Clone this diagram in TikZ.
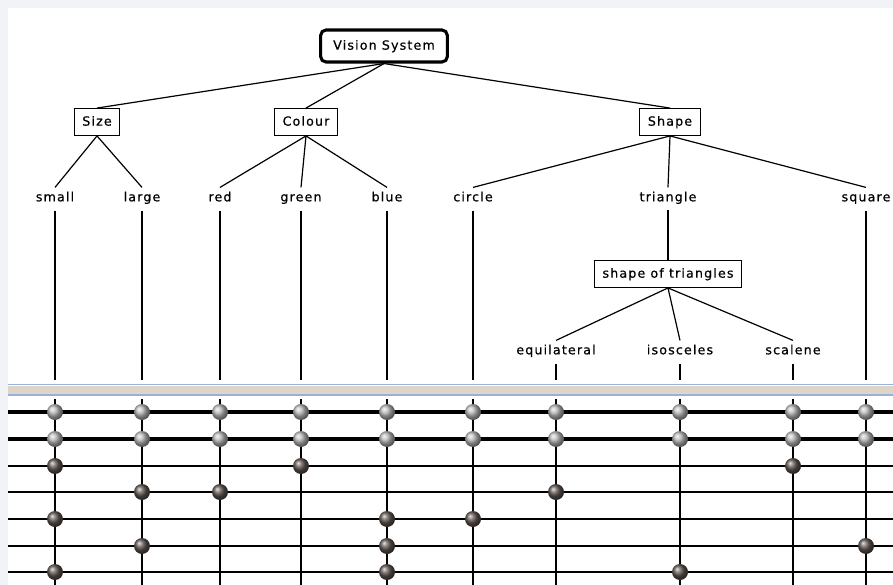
\documentclass[tikz,border=0pt]{standalone}
\usepackage{fontspec}
\setmainfont{DejaVu Sans}[LetterSpace=9, FakeBold=0.5]
\usetikzlibrary{calc}

\definecolor{stripgray}{RGB}{242,243,246}
\definecolor{sepblue}{RGB}{150,178,214}
\definecolor{sepband}{RGB}{222,212,200}
\definecolor{beadset}{RGB}{95,85,80}

\tikzset{
  catbox/.style={draw, line width=0.9pt, fill=white, minimum height=20pt, inner xsep=6pt,
    text height=7pt, text depth=1.5pt, font=\fontsize{9.5}{11}\selectfont},
  rootbox/.style={catbox, line width=2.3pt, rounded corners=4pt, minimum height=24pt, minimum width=95pt},
  leaf/.style={inner sep=1pt, text height=7pt, text depth=2pt, font=\fontsize{9.5}{11}\selectfont},
  wire/.style={line width=0.9pt},
  rail/.style={line width=0.9pt},
  railbold/.style={line width=2.8pt},
  bead/.style={circle, inner sep=0pt, minimum size=12pt, shading=ball, ball color=gray!55},
  setbead/.style={bead, ball color=beadset}
}

\begin{document}
\begin{tikzpicture}[x=0.75pt, y=-0.75pt]
	\useasboundingbox (0,0) rectangle (893,585);
	\fill[stripgray] (0,0) rectangle (893,8);
	\fill[stripgray] (0,8) rectangle (8,585);

	% tree
	\node[rootbox] (vs) at (384,46) {Vision System};
	\node[catbox] (size) at (97,122) {Size};
	\node[catbox] (colour) at (306,122) {Colour};
	\node[catbox] (shape) at (670,122) {Shape};
	\node[catbox] (tri) at (668,274) {shape of triangles};

	\node[leaf] (small) at (55,198) {small};
	\node[leaf] (large) at (142,198) {large};
	\node[leaf] (red) at (220,198) {red};
	\node[leaf] (green) at (301,198) {green};
	\node[leaf] (blue) at (387,198) {blue};
	\node[leaf] (circle) at (473,198) {circle};
	\node[leaf] (triangle) at (668,198) {triangle};
	\node[leaf] (square) at (866,198) {square};
	\node[leaf] (equi) at (556,351) {equilateral};
	\node[leaf] (isos) at (680,351) {isosceles};
	\node[leaf] (scal) at (793,351) {scalene};

	\draw[wire] (vs.south) -- (size.north);
	\draw[wire] (vs.south) -- (colour.north);
	\draw[wire] (vs.south) -- (shape.north);
	\draw[wire] (size.south) -- ($(small.north)+(0,-3)$);
	\draw[wire] (size.south) -- ($(large.north)+(0,-3)$);
	\draw[wire] (colour.south) -- ($(red.north)+(0,-3)$);
	\draw[wire] (colour.south) -- ($(green.north)+(0,-3)$);
	\draw[wire] (colour.south) -- ($(blue.north)+(0,-3)$);
	\draw[wire] (shape.south) -- ($(circle.north)+(0,-3)$);
	\draw[wire] (shape.south) -- ($(triangle.north)+(0,-3)$);
	\draw[wire] (shape.south) -- ($(square.north)+(0,-3)$);
	\draw[wire] ($(triangle.south)+(0,4)$) -- (tri.north);
	\draw[wire] (tri.south) -- ($(equi.north)+(0,-3)$);
	\draw[wire] (tri.south) -- ($(isos.north)+(0,-3)$);
	\draw[wire] (tri.south) -- ($(scal.north)+(0,-3)$);

	% separator
	\fill[sepband] (8,386) rectangle (893,394);
	\draw[sepblue, line width=0.9pt] (8,384.5) -- (893,384.5);
	\draw[sepblue, line width=0.9pt] (8,395) -- (893,395);

	% rails
	\foreach \y/\s in {412/railbold, 439/railbold, 466/rail, 492/rail, 519/rail, 546/rail, 572/rail}
		\draw[\s] (8,\y) -- (893,\y);

	% columns and beads
	\foreach \c/\x in {small/55, large/142, red/220, green/301, blue/387, circle/473, equi/556, isos/680, scal/793, square/866} {
		\coordinate (top-\c) at (\x,380);
		\draw[wire] ($(\c.south)+(0,5)$) -- (top-\c);
		\draw[wire] (\x,399) -- (\x,585);
		\node[bead] (b1-\c) at (\x,412) {};
		\node[bead] (b2-\c) at (\x,439) {};
	}

	\foreach \c/\x/\y in {small/55/466, green/301/466, scal/793/466,
		large/142/492, red/220/492, equi/556/492,
		small/55/519, blue/387/519, circle/473/519,
		large/142/546, blue/387/546, square/866/546,
		small/55/572, blue/387/572, isos/680/572}
		\node[setbead] (s-\c-\y) at (\x,\y) {};
\end{tikzpicture}
\end{document}
